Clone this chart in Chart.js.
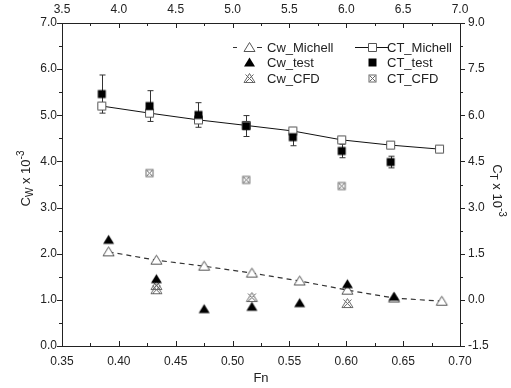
<!DOCTYPE html>
<html>
<head>
<meta charset="utf-8">
<script src="https://cdn.jsdelivr.net/npm/chart.js@4/dist/chart.umd.min.js"></script>
<style>
  html, body { margin: 0; padding: 0; background: #fff; }
  #wrap { width: 511px; height: 388px; }
</style>
</head>
<body>
<div id="wrap"><canvas id="chart" width="511" height="388"></canvas></div>
<script>
// Froude numbers of the wave resistance (Cw) points and of the total resistance (CT) points
var fnCw      = [0.391, 0.433, 0.475, 0.517, 0.559, 0.601, 0.642, 0.684]
var fnCt      = [0.385, 0.427, 0.470, 0.512, 0.553, 0.596, 0.639, 0.682]

// left axis, Cw x 10^-3
var cwMichell = [2.04, 1.86, 1.73, 1.58, 1.41, 1.21, 1.04, 0.97]
var cwTest    = [2.30, 1.45, 0.80, 0.85, 0.93, 1.34, 1.07]
var fnCwCfd   = [0.433, 0.433, 0.517, 0.601]
var cwCfd     = [1.31, 1.22, 1.05, 0.92]

// right axis, CT x 10^-3
var ctMichell = [6.30, 6.07, 5.85, 5.67, 5.49, 5.20, 5.03, 4.90]
var ctTest    = [6.69, 6.30, 6.01, 5.65, 5.29, 4.84, 4.48]
var ctTestErr = [0.62, 0.50, 0.40, 0.34, 0.28, 0.22, 0.19]
var fnCtCfd   = [0.427, 0.512, 0.596]
var ctCfd     = [4.12, 3.90, 3.70]

var FONT = '"Liberation Sans", Arial, sans-serif'
var INK = '#222'
var GREY = '#555'

const pts = (xs, ys) => ys.map((y, i) => ({x: xs[i], y: y}))

// small canvases used as point styles (and in the legend)
function marker(kind) {
  var s = 15, c = document.createElement('canvas')
  c.width = c.height = s
  var g = c.getContext('2d'), m = s / 2
  g.lineWidth = 1
  function tri() {
    g.beginPath()
    g.moveTo(m, m - 5); g.lineTo(m + 5.5, m + 4); g.lineTo(m - 5.5, m + 4); g.closePath()
  }
  function sq() { g.beginPath(); g.rect(m - 4, m - 4, 8, 8) }
  switch (kind) {
    case 'triOpen':
      tri(); g.fillStyle = '#fff'; g.fill(); g.strokeStyle = GREY; g.stroke(); break
    case 'triFill':
      tri(); g.fillStyle = '#000'; g.fill(); break
    case 'triCross':
      tri(); g.strokeStyle = '#666'; g.stroke()
      g.beginPath()
      g.moveTo(m - 4, m - 4); g.lineTo(m + 4, m + 4)
      g.moveTo(m + 4, m - 4); g.lineTo(m - 4, m + 4)
      g.stroke(); break
    case 'sqOpen':
      sq(); g.fillStyle = '#fff'; g.fill(); g.strokeStyle = GREY; g.stroke(); break
    case 'sqFill':
      sq(); g.fillStyle = '#000'; g.fill(); break
    case 'sqCross':
      g.strokeStyle = '#666'
      g.strokeRect(m - 3.5, m - 3.5, 7, 7)
      g.beginPath()
      g.moveTo(m - 2.5, m - 2.5); g.lineTo(m + 2.5, m + 2.5)
      g.moveTo(m + 2.5, m - 2.5); g.lineTo(m - 2.5, m + 2.5)
      g.stroke(); break
  }
  return c
}

var mk = {
    triOpen: marker('triOpen')
  , triFill: marker('triFill')
  , triCross: marker('triCross')
  , sqOpen: marker('sqOpen')
  , sqFill: marker('sqFill')
  , sqCross: marker('sqCross')
}

function dataset(label, data, style, axis, extra) {
  return Object.assign({
      label: label
    , data: data
    , yAxisID: axis
    , pointStyle: style
    , pointRadius: 5
    , pointHoverRadius: 5
    , showLine: false
    , borderColor: INK
    , borderWidth: 1
  }, extra || {})
}

// first dataset is painted last (on top)
var datasets = [
    dataset('CT_test', pts(fnCt, ctTest), mk.sqFill, 'y2', {errors: ctTestErr})
  , dataset('Cw_test', pts(fnCw, cwTest), mk.triFill, 'y')
  , dataset('CT_Michell', pts(fnCt, ctMichell), mk.sqOpen, 'y2', {showLine: true, borderColor: '#111'})
  , dataset('Cw_Michell', pts(fnCw, cwMichell), mk.triOpen, 'y', {showLine: true, borderColor: '#333', borderDash: [5, 4], borderWidth: 1.2})
  , dataset('Cw_CFD', pts(fnCwCfd, cwCfd), mk.triCross, 'y')
  , dataset('CT_CFD', pts(fnCtCfd, ctCfd), mk.sqCross, 'y2')
]

var legendRows = [
    ['Cw_Michell', 'CT_Michell']
  , ['Cw_test', 'CT_test']
  , ['Cw_CFD', 'CT_CFD']
]

function axisOpts(pos, min, max, step, digits, pad, size) {
  return {
      type: 'linear'
    , position: pos
    , min: min
    , max: max
    , grid: {display: false, drawTicks: false}
    , border: {display: false}
    , ticks: {
          stepSize: step
        , padding: pad
        , color: INK
        , font: {family: FONT, size: 12}
        , maxRotation: 0
        , autoSkip: false
        , callback: v => Number(v).toFixed(digits)
      }
    , afterFit: s => { if (s.isHorizontal()) s.height = size; else s.width = size }
  }
}

// frame, inward/outward tick marks and minor ticks
var framePlugin = {
  id: 'frame',
  afterDraw(chart) {
    var ctx = chart.ctx, a = chart.chartArea, sc = chart.scales
    ctx.save()
    ctx.strokeStyle = INK
    ctx.lineWidth = 1
    ctx.strokeRect(a.left + 0.5, a.top + 0.5, a.right - a.left, a.bottom - a.top)
    function marks(scale, from, to, step, draw) {
      var n = Math.round((to - from) / step)
      for (var i = 0; i <= n; i++) {
        var p = Math.round(scale.getPixelForValue(from + i * step)) + 0.5
        draw(p, i % 2 === 0 ? 5 : 3)
      }
    }
    ctx.beginPath()
    marks(sc.x, 0.35, 0.70, 0.025, (p, l) => { ctx.moveTo(p, a.bottom); ctx.lineTo(p, a.bottom - l) })
    marks(sc.x2, 3.5, 7.0, 0.25, (p, l) => { ctx.moveTo(p, a.top); ctx.lineTo(p, a.top + l) })
    marks(sc.y, 0, 7, 0.5, (p, l) => { ctx.moveTo(a.left, p); ctx.lineTo(a.left - l, p) })
    marks(sc.y2, -1.5, 9, 0.75, (p, l) => { ctx.moveTo(a.right, p); ctx.lineTo(a.right + l, p) })
    ctx.stroke()
    ctx.restore()
  }
}

var errorPlugin = {
  id: 'errors',
  beforeDatasetsDraw(chart) {
    var ctx = chart.ctx
    ctx.save()
    ctx.strokeStyle = '#333'
    ctx.lineWidth = 1
    chart.data.datasets.forEach(function(ds) {
      if (!ds.errors) return
      var ys = chart.scales[ds.yAxisID], xs = chart.scales.x
      ds.data.forEach(function(d, i) {
        var x = Math.round(xs.getPixelForValue(d.x)) + 0.5
        var t = ys.getPixelForValue(d.y + ds.errors[i])
        var b = ys.getPixelForValue(d.y - ds.errors[i])
        ctx.beginPath()
        ctx.moveTo(x, t); ctx.lineTo(x, b)
        ctx.moveTo(x - 3, t); ctx.lineTo(x + 3, t)
        ctx.moveTo(x - 3, b); ctx.lineTo(x + 3, b)
        ctx.stroke()
      })
    })
    ctx.restore()
  }
}

// "C<sub>s</sub> x 10<sup>-3</sup>", rotated
function drawTitle(ctx, sub, cx, cy, angle) {
  var big = '13px ' + FONT, small = '10px ' + FONT
  ctx.save()
  ctx.translate(cx, cy)
  ctx.rotate(angle)
  ctx.fillStyle = INK
  ctx.textBaseline = 'alphabetic'
  var parts = [['C', big, 0], [sub, small, 3], [' x 10', big, 0], ['-3', small, -6]]
  var w = 0
  parts.forEach(p => { ctx.font = p[1]; w += ctx.measureText(p[0]).width })
  var x = -w / 2
  parts.forEach(p => {
    ctx.font = p[1]
    ctx.fillText(p[0], x, 5 + p[2])
    x += ctx.measureText(p[0]).width
  })
  ctx.restore()
}

var titlePlugin = {
  id: 'titles',
  afterDraw(chart) {
    var ctx = chart.ctx, a = chart.chartArea
    var midY = (a.top + a.bottom) / 2
    drawTitle(ctx, 'W', a.left - 37, midY - 6, -Math.PI / 2)
    drawTitle(ctx, 'T', a.right + 38, midY + 6, Math.PI / 2)
    ctx.save()
    ctx.fillStyle = INK
    ctx.font = '13px ' + FONT
    ctx.textAlign = 'center'
    ctx.textBaseline = 'middle'
    ctx.fillText('Fn', (a.left + a.right) / 2, a.bottom + 32)
    ctx.restore()
  }
}

var legendPlugin = {
  id: 'boxLegend',
  afterDraw(chart) {
    var ctx = chart.ctx, a = chart.chartArea
    var cols = [a.right - 211, a.right - 88]
    var byLabel = {}
    chart.data.datasets.forEach(ds => { byLabel[ds.label] = ds })
    ctx.save()
    ctx.font = '13px ' + FONT
    ctx.textBaseline = 'middle'
    ctx.fillStyle = INK
    legendRows.forEach(function(row, r) {
      var y = a.top + 24 + r * 15.5
      row.forEach(function(label, c) {
        var ds = byLabel[label], x = cols[c]
        if (ds.showLine) {
          ctx.save()
          ctx.strokeStyle = ds.borderColor
          ctx.lineWidth = ds.borderWidth
          ctx.setLineDash(ds.borderDash || [])
          ctx.beginPath()
          if (ds.borderDash) {
            ctx.setLineDash([])
            ctx.moveTo(x - 16, y + 0.5); ctx.lineTo(x - 12, y + 0.5)
            ctx.moveTo(x + 8, y + 0.5); ctx.lineTo(x + 13, y + 0.5)
          } else {
            ctx.moveTo(x - 17, y + 0.5); ctx.lineTo(x + 17, y + 0.5)
          }
          ctx.stroke()
          ctx.restore()
        }
        var img = ds.pointStyle
        ctx.drawImage(img, Math.round(x - img.width / 2), Math.round(y - img.height / 2))
        ctx.fillText(label, x + (c === 0 ? 18 : 15), y + 1)
      })
    })
    ctx.restore()
  }
}

new Chart(document.getElementById('chart'), {
  type: 'scatter'
, data: {datasets: datasets}
, options: {
    responsive: false
  , animation: false
  , layout: {padding: 0}
  , plugins: {legend: {display: false}, tooltip: {enabled: false}}
  , scales: {
      x:  axisOpts('bottom', 0.35, 0.70, 0.05, 2, 8, 42)
    , x2: axisOpts('top', 3.5, 7.0, 0.5, 1, 6, 23)
    , y:  axisOpts('left', 0, 7, 1, 1, 5, 62)
    , y2: axisOpts('right', -1.5, 9, 1.5, 1, 8, 51)
    }
  }
, plugins: [errorPlugin, framePlugin, titlePlugin, legendPlugin]
})
</script>
</body>
</html>
